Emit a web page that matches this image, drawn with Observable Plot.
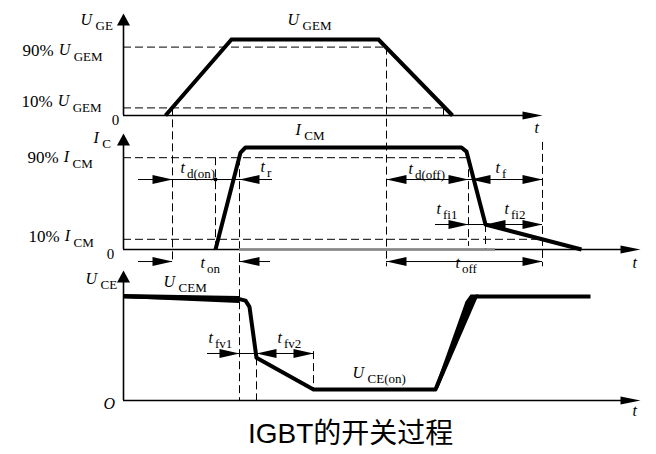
<!DOCTYPE html>
<html><head><meta charset="utf-8">
<script src="https://cdn.jsdelivr.net/npm/d3@7"></script>
<script src="https://cdn.jsdelivr.net/npm/@observablehq/plot@0.6"></script>
<style>
body{margin:0;background:#fff;}
#wrap{position:relative;width:656px;height:454px;background:#fff;}
#cap{position:absolute;left:248px;top:418px;font-size:28px;line-height:32px;font-family:"Liberation Sans","Noto Sans CJK SC",sans-serif;white-space:nowrap;color:#000;}
g[aria-description="italic"] text{font-style:italic;}
</style></head><body>
<div id="wrap"><div id="chart"></div><div id="cap">IGBT的开关过程</div></div>
<script>
// ---------- data (time in arbitrary units, 0 = origin; levels normalised) ----------
const uGE_t = [42, 108, 255, 329];
const uGE_v = [0, 1, 1, 0];
const iC_t = [92, 117, 122, 338, 343, 362, 458];
const iC_v = [0, 0.95, 1, 1, 0.96, 0.245, 0];
const uCE_t = [0, 116, 122, 126, 133, 190, 312, 348, 353, 467];
const uCE_v = [1, 0.975, 0.96, 0.9, 0.41, 0.106, 0.106, 0.96, 1, 1];
const refLevels = [0.9, 0.1];
const refLabels = ["90%", "10%"];
// switching instants
const t_dOn = 49, t_iRise = 92, t_onEnd = 116, t_vKnee = 133, t_vEnd = 190;
const t_gOff90 = 263, t_gOff10 = 320, t_iOff90 = 345, t_iKnee = 362, t_offEnd = 419;
const iKneeLevel = 0.245, vKneeLevel = 0.41;

// ---------- layout ----------
const W = 656, H = 418;
const panels = [
  {base: 115, amp: 76, top: 13, xEnd: t_offEnd},
  {base: 249, amp: 102, top: 133, xEnd: 517},
  {base: 400, amp: 104, top: 270, xEnd: 517}
];
const Y = (p, v) => panels[p].base - v * panels[p].amp;
const sig = (ts, vs, p) => ts.map((t, i) => ({t, y: Y(p, vs[i])}));

// arrowhead symbols (tip at origin)
const headR = {draw(c){c.moveTo(0,0);c.lineTo(-20,-4.5);c.lineTo(-20,4.5);c.closePath();}};
const headL = {draw(c){c.moveTo(0,0);c.lineTo(20,-4.5);c.lineTo(20,4.5);c.closePath();}};
const axR = {draw(c){c.moveTo(0,0);c.lineTo(-20,-4);c.lineTo(-20,4);c.closePath();}};
const axU = {draw(c){c.moveTo(0,0);c.lineTo(-6.5,12);c.lineTo(6.5,12);c.closePath();}};

const dashV = [
  {t: t_dOn, y1: Y(0, 0.1), y2: Y(1, -0.14)},
  {t: t_gOff90, y1: Y(0, 0.9), y2: Y(1, -0.17)},
  {t: t_iRise, y1: Y(1, 0.9), y2: Y(1, 0)},
  {t: t_onEnd, y1: Y(1, 0.9), y2: Y(2, 0)},
  {t: t_vKnee, y1: Y(2, vKneeLevel), y2: Y(2, 0)},
  {t: t_vEnd, y1: Y(2, 0.47), y2: Y(2, 0.106)},
  {t: t_iOff90, y1: Y(1, 0.9), y2: Y(1, 0.03)},
  {t: t_iKnee, y1: Y(1, iKneeLevel), y2: Y(1, 0)},
  {t: t_offEnd, y1: Y(1, 1.05), y2: Y(1, -0.17)}
];
const dashH = [
  {p: 0, v: refLevels[0], x2: t_gOff90}, {p: 0, v: refLevels[1], x2: t_gOff10},
  {p: 1, v: refLevels[0], x2: t_iOff90}, {p: 1, v: refLevels[1], x2: t_offEnd}
];
const lvOn = 0.686, lvBelow = -0.118, lvFv = 0.452;
const dims = [
  {p: 1, v: lvOn, x1: 15, x2: 149},
  {p: 1, v: lvBelow, x1: 15, x2: t_dOn},
  {p: 1, v: lvBelow, x1: t_onEnd, x2: 147},
  {p: 1, v: lvOn, x1: t_gOff90, x2: t_offEnd},
  {p: 1, v: iKneeLevel, x1: 312, x2: t_offEnd},
  {p: 1, v: lvBelow, x1: t_gOff90, x2: t_offEnd},
  {p: 2, v: lvFv, x1: 84, x2: t_vEnd}
];
const headsR = [
  {t: t_dOn, p: 1, v: lvOn}, {t: t_dOn, p: 1, v: lvBelow},
  {t: t_iOff90, p: 1, v: lvOn}, {t: t_offEnd, p: 1, v: lvOn},
  {t: t_iOff90, p: 1, v: iKneeLevel}, {t: t_offEnd, p: 1, v: iKneeLevel},
  {t: t_offEnd, p: 1, v: lvBelow},
  {t: t_onEnd, p: 2, v: lvFv}, {t: t_vEnd, p: 2, v: lvFv}
];
const headsL = [
  {t: t_onEnd, p: 1, v: lvOn}, {t: t_onEnd, p: 1, v: lvBelow},
  {t: t_gOff90, p: 1, v: lvOn}, {t: t_iOff90 + 2, p: 1, v: lvOn},
  {t: t_iKnee, p: 1, v: iKneeLevel}, {t: t_gOff90, p: 1, v: lvBelow},
  {t: t_vKnee, p: 2, v: lvFv}
];

// labels (x in time units, y = text baseline)
const labels = [
  {x: -43, y: 24, main: "U", sub: "GE"},
  {x: 164, y: 24, main: "U", sub: "GEM"},
  {x: -101, y: 55, pre: refLabels[0], main: "U", sub: "GEM"},
  {x: -102, y: 106, pre: refLabels[1], main: "U", sub: "GEM"},
  {x: -30, y: 142, main: "I", sub: "C"},
  {x: 172, y: 134, main: "I", sub: "CM"},
  {x: -96, y: 162, pre: refLabels[0], main: "I", sub: "CM"},
  {x: -95, y: 241, pre: refLabels[1], main: "I", sub: "CM"},
  {x: 57, y: 172, main: "t", sub: "d(on)"},
  {x: 137, y: 171, main: "t", sub: "r"},
  {x: 77, y: 267, main: "t", sub: "on"},
  {x: 285, y: 173, main: "t", sub: "d(off)"},
  {x: 372, y: 172, main: "t", sub: "f"},
  {x: 313, y: 213, main: "t", sub: "fi1"},
  {x: 381, y: 213, main: "t", sub: "fi2"},
  {x: 332, y: 267, main: "t", sub: "off"},
  {x: -38, y: 283, main: "U", sub: "CE"},
  {x: 40, y: 286, main: "U", sub: "CEM"},
  {x: 85, y: 342, main: "t", sub: "fv1"},
  {x: 154, y: 342, main: "t", sub: "fv2"},
  {x: 229, y: 377, main: "U", sub: "CE(on)"}
];
const plainT = [{x: -8, y: 124, s: "0"}, {x: -13, y: 258, s: "0"}];
const italT = [{x: 411, y: 132, s: "t"}, {x: 509, y: 267, s: "t"}, {x: 509, y: 415, s: "t"}, {x: -20, y: 408, s: "O"}];

const SERIF = "Liberation Serif";
const ctx = document.createElement("canvas").getContext("2d");
const tw = (s, f) => { ctx.font = f; return ctx.measureText(s).width; };
const preT = [], mainT = [], subT = [];
for (const l of labels) {
  let x = l.x;
  if (l.pre) { preT.push({x, y: l.y, s: l.pre}); x += tw(l.pre, `17px '${SERIF}'`) + 5; }
  mainT.push({x, y: l.y - (l.pre ? 1 : 0), s: l.main});
  x += tw(l.main, `italic 16px '${SERIF}'`) + (l.main === "t" ? 2 : 3.5);
  subT.push({x, y: l.y + 5, s: l.sub});
}

// U_CE wedge (thickening before turn-on) and rise wedge at turn-off
const wedge1 = [
  {t: 0, a: Y(2, 1) - 2, b: Y(2, 1) + 2},
  {t: 116, a: Y(2, 0.975) - 2.5, b: Y(2, 0.975) + 4.5}
];
const wedge2 = [
  {t: 310, y: Y(2, 0.087)}, {t: 342, y: Y(2, 0.952)}, {t: 347, y: Y(2, 1.02)},
  {t: 355, y: Y(2, 1.02)}, {t: 354, y: Y(2, 0.99)}, {t: 315, y: Y(2, 0.125)}
];

const txt = (data, o) => Plot.text(data, {x: "x", y: "y", text: "s", textAnchor: "start", lineAnchor: "bottom", fill: "black", fontFamily: SERIF, ...o});

const chart = Plot.plot({
  width: W, height: H, margin: 0,
  x: {domain: [-123, 533], range: [0, 656], axis: null},
  y: {domain: [0, H], range: [0, H], axis: null},
  style: {background: "white", overflow: "visible"},
  marks: [
    Plot.ruleX(dashV, {x: "t", y1: "y1", y2: "y2", stroke: "black", strokeWidth: 1, strokeDasharray: "8,4"}),
    Plot.ruleY(dashH, {y: d => Y(d.p, d.v), x1: d => 0, x2: "x2", stroke: "black", strokeWidth: 1, strokeDasharray: "8,4"}),
    Plot.ruleX([t_dOn, t_gOff10], {x: d => d, y1: d => Y(0, 0.1), y2: d => Y(0, 0), stroke: "black", strokeWidth: 1}),
    Plot.ruleY(dims, {y: d => Y(d.p, d.v), x1: "x1", x2: "x2", stroke: "black", strokeWidth: 1}),
    // axes
    Plot.ruleX(panels, {x: d => 0, y1: "base", y2: d => d.top + 8, stroke: "black", strokeWidth: 1.6}),
    Plot.ruleY(panels, {y: "base", x1: d => 0, x2: d => d.xEnd - 15, stroke: "black", strokeWidth: 1.4}),
    Plot.ruleY([1], {y: d => Y(1, 0), x1: d => t_onEnd, x2: d => 372, stroke: "#8a8a8a", strokeWidth: 2.5}),
    Plot.dot(panels, {x: d => 0, y: "top", symbol: axU, fill: "black", stroke: "none", r: 5}),
    Plot.dot(panels, {x: "xEnd", y: "base", symbol: axR, fill: "black", stroke: "none", r: 5}),
    // signals
    Plot.line(sig(uGE_t, uGE_v, 0), {x: "t", y: "y", stroke: "black", strokeWidth: 4, strokeLinejoin: "miter", strokeMiterlimit: 10, strokeLinecap: "butt"}),
    Plot.line(sig(iC_t, iC_v, 1), {x: "t", y: "y", stroke: "black", strokeWidth: 4, strokeLinejoin: "round", strokeLinecap: "butt"}),
    Plot.line(sig(uCE_t, uCE_v, 2), {x: "t", y: "y", stroke: "black", strokeWidth: 4, strokeLinejoin: "round", strokeLinecap: "butt"}),
    Plot.area(wedge1, {x1: "t", y1: "a", y2: "b", fill: "black"}),
    Plot.line(wedge2, {x: "t", y: "y", fill: "black", stroke: "none"}),
    // dimension arrowheads
    Plot.dot(headsR, {x: "t", y: d => Y(d.p, d.v), symbol: headR, fill: "black", stroke: "none", r: 5}),
    Plot.dot(headsL, {x: "t", y: d => Y(d.p, d.v), symbol: headL, fill: "black", stroke: "none", r: 5}),
    Plot.dot([t_iRise], {x: d => d, y: d => Y(1, lvOn), r: 2, fill: "black", stroke: "none"}),
    // texts
    txt(preT, {fontSize: 17}),
    txt(mainT, {fontSize: 16, fontStyle: "italic", ariaDescription: "italic"}),
    txt(subT, {fontSize: 13}),
    txt(plainT, {fontSize: 15, textAnchor: "middle"}),
    txt(italT, {fontSize: 16, fontStyle: "italic", ariaDescription: "italic"})
  ]
});
chart.querySelectorAll('g[aria-description="italic"] text').forEach(t => t.setAttribute("font-style", "italic"));
document.getElementById("chart").appendChild(chart);
</script></body></html>
